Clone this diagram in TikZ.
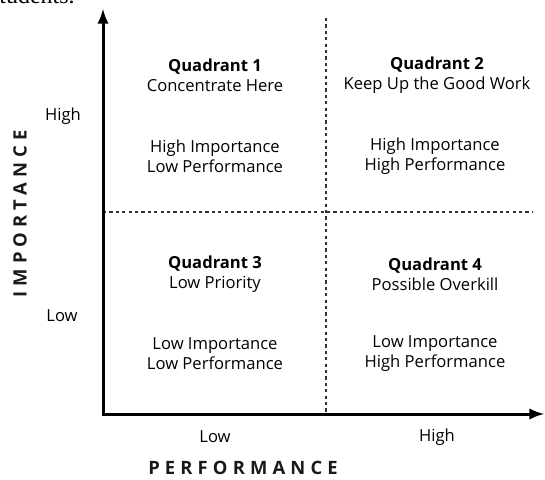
\documentclass[tikz,border=0pt]{standalone}
\usepackage{fontspec}
\setmainfont{Open Sans}
\newfontfamily\cutfont{Liberation Serif}
\newfontfamily\spacedfont[LetterSpace=28]{Open Sans}
\usetikzlibrary{arrows,positioning}

\begin{document}
\begin{tikzpicture}[x=0.5pt, y=-0.5pt,
    axis/.style={draw, line width=1.5pt, latex-latex, color=black},
    divider/.style={draw, line width=0.9pt, dash pattern=on 1.6pt off 1.6pt, color=black!80},
    quad/.style={align=center, font=\fontsize{8.3}{10}\selectfont, text=black, inner sep=0pt},
    level/.style={font=\fontsize{8.3}{10}\selectfont, text=black, inner sep=0pt},
    axislabel/.style={font=\spacedfont\bfseries\fontsize{9.2}{11}\selectfont, text=black!90, inner sep=0pt}
]
    \useasboundingbox (0,0) rectangle (545,480);

    % Leftover text of the page above
    \node[font=\cutfont\fontsize{12}{14}\selectfont, anchor=base west, inner sep=0pt] (cut) at (-1,4) {tudents.};

    % Axes
    \coordinate (origin) at (103,414);
    \coordinate (ytip) at (103,9);
    \coordinate (xtip) at (544,414);
    \coordinate (vtop) at (326,18);
    \coordinate (vbot) at (326,414);
    \coordinate (hleft) at (103,212);
    \coordinate (hright) at (532,212);

    \path [divider] (vtop) -- (vbot);
    \path [divider] (hleft) -- (hright);
    \path [axis] (ytip) -- (origin) -- (xtip);

    % Quadrant texts
    \node[quad] (q1) at (215,75) {\textbf{Quadrant 1}\\Concentrate Here};
    \node[quad] (q1sub) at (215,156) {High Importance\\Low Performance};
    \node[quad] (q2) at (437,75) {\textbf{Quadrant 2}\\Keep Up the Good Work};
    \node[quad] (q2sub) at (435,156) {High Importance\\High Performance};
    \node[quad] (q3) at (215,274) {\textbf{Quadrant 3}\\Low Priority};
    \node[quad] (q3sub) at (215,354) {Low Importance\\Low Performance};
    \node[quad] (q4) at (435,274) {\textbf{Quadrant 4}\\Possible Overkill};
    \node[quad] (q4sub) at (435,354) {Low Importance\\High Performance};

    % Axis labels
    \node[level] (yhigh) at (63,116) {High};
    \node[level] (ylow) at (62,316) {Low};
    \node[level] (xlow) at (215,437) {Low};
    \node[level] (xhigh) at (437,437) {High};
    \node[axislabel, rotate=90] (ylabel) at (20,214) {IMPORTANCE};
    \node[axislabel] (xlabel) at (243,468) {PERFORMANCE};
\end{tikzpicture}
\end{document}
